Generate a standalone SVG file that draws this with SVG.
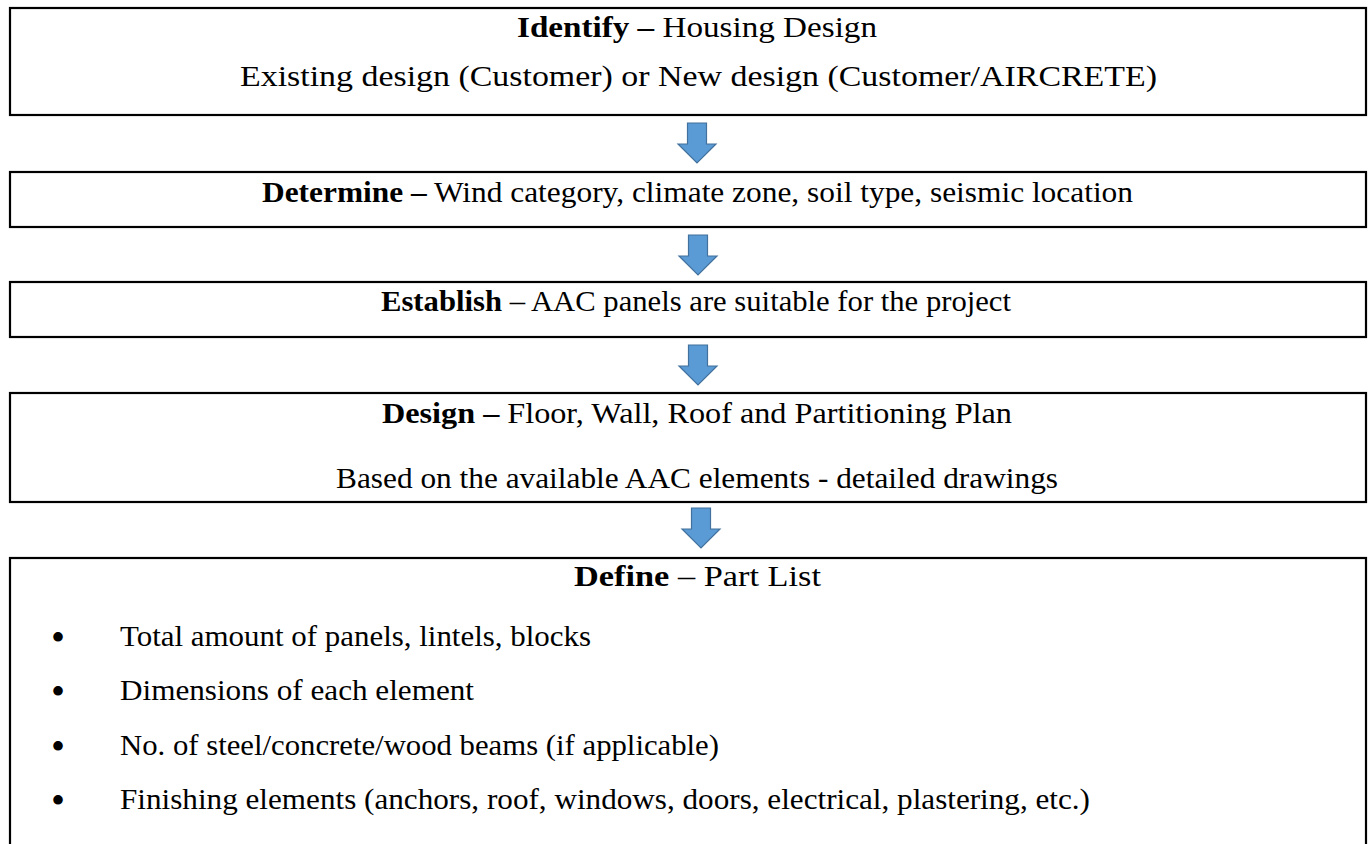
<svg xmlns="http://www.w3.org/2000/svg" width="1369" height="844" viewBox="0 0 1369 844">
  <style>
    .box { fill: #ffffff; stroke: #000000; stroke-width: 2.2; }
    .t { font-family: "Liberation Serif", "Times New Roman", serif; font-size: 29px; fill: #000000; }
    .b { font-weight: bold; }
    .dot { font-family: "Liberation Serif", "Times New Roman", serif; font-size: 40px; fill: #000000; text-anchor: middle; }
    .arrow { fill: #5B9BD5; stroke: #41719C; stroke-width: 1.2; stroke-linejoin: miter; }
  </style>
  <defs>
    <!-- block arrow pointing down, origin at top centre -->
    <path id="down" d="M -9.5 0 H 9.5 V 21 H 19 L 0 40 L -19 21 H -9.5 Z"/>
  </defs>
  <rect width="1369" height="844" fill="#ffffff"/>

  <g id="identify">
    <rect class="box" x="10" y="8" width="1356" height="107"/>
    <text class="t" x="517" y="37" textLength="360" lengthAdjust="spacingAndGlyphs"><tspan class="b">Identify –</tspan> Housing Design</text>
    <text class="t" x="240" y="86" textLength="917" lengthAdjust="spacingAndGlyphs">Existing design (Customer) or New design (Customer/AIRCRETE)</text>
  </g>

  <g id="determine">
    <rect class="box" x="10" y="172" width="1356" height="55"/>
    <text class="t" x="262" y="202" textLength="871" lengthAdjust="spacingAndGlyphs"><tspan class="b">Determine –</tspan> Wind category, climate zone, soil type, seismic location</text>
  </g>

  <g id="establish">
    <rect class="box" x="10" y="282" width="1356" height="55"/>
    <text class="t" x="381" y="311" textLength="630" lengthAdjust="spacingAndGlyphs"><tspan class="b">Establish</tspan> – AAC panels are suitable for the project</text>
  </g>

  <g id="design">
    <rect class="box" x="10" y="393" width="1356" height="109"/>
    <text class="t" x="382" y="423" textLength="630" lengthAdjust="spacingAndGlyphs"><tspan class="b">Design –</tspan> Floor, Wall, Roof and Partitioning Plan</text>
    <text class="t" x="336" y="488" textLength="722" lengthAdjust="spacingAndGlyphs">Based on the available AAC elements - detailed drawings</text>
  </g>

  <g id="define">
    <rect class="box" x="10" y="558" width="1356" height="310"/>
    <text class="t" x="574" y="586" textLength="247" lengthAdjust="spacingAndGlyphs"><tspan class="b">Define</tspan> – Part List</text>
    <text class="dot" x="58" y="651">•</text>
    <text class="t" x="120" y="646" textLength="471" lengthAdjust="spacingAndGlyphs">Total amount of panels, lintels, blocks</text>
    <text class="dot" x="58" y="705">•</text>
    <text class="t" x="120" y="700" textLength="354" lengthAdjust="spacingAndGlyphs">Dimensions of each element</text>
    <text class="dot" x="58" y="760">•</text>
    <text class="t" x="120" y="755" textLength="599" lengthAdjust="spacingAndGlyphs">No. of steel/concrete/wood beams (if applicable)</text>
    <text class="dot" x="58" y="814">•</text>
    <text class="t" x="120" y="809" textLength="970" lengthAdjust="spacingAndGlyphs">Finishing elements (anchors, roof, windows, doors, electrical, plastering, etc.)</text>
  </g>

  <g id="connectors">
    <use href="#down" class="arrow" x="697" y="123"/>
    <use href="#down" class="arrow" x="698" y="235"/>
    <use href="#down" class="arrow" x="698" y="345"/>
    <use href="#down" class="arrow" x="701" y="508"/>
  </g>
</svg>
